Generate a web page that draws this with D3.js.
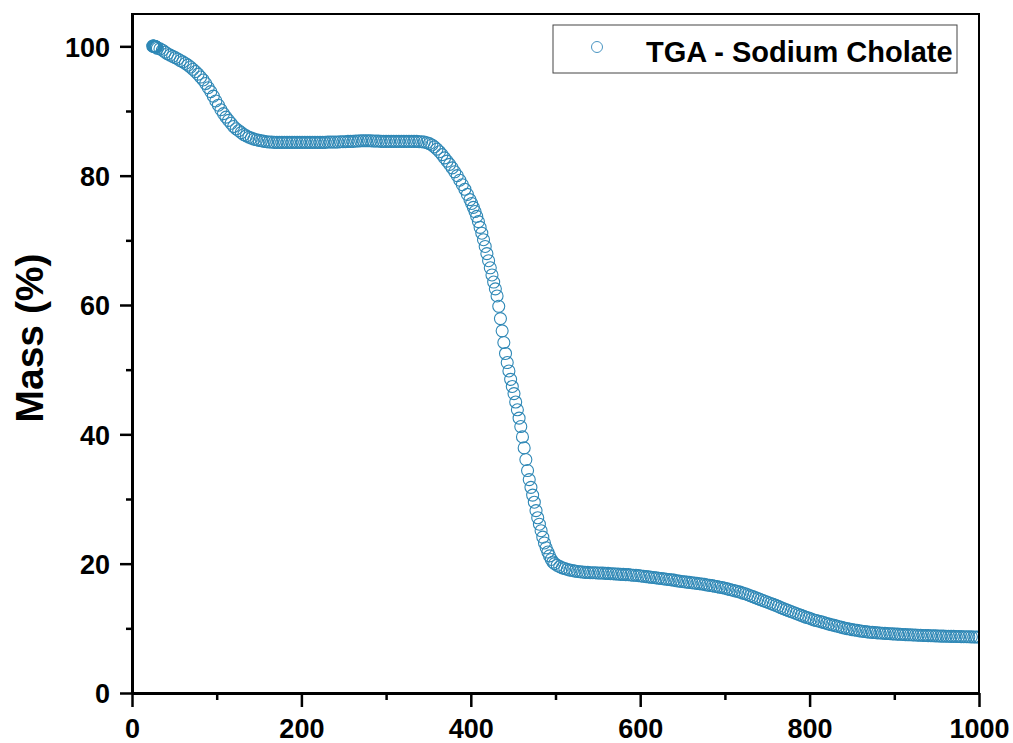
<!DOCTYPE html>
<html>
<head>
<meta charset="utf-8">
<script src="https://cdn.jsdelivr.net/npm/d3@7"></script>
<style>
  body { margin: 0; background: #fff; }
  svg { display: block; }
  text { font-family: "Liberation Sans", Arial, sans-serif; font-weight: bold; }
</style>
</head>
<body>
<svg id="chart" width="1013" height="743"></svg>
<script>
// ---- data (temperature °C, mass %) ----
const seriesName = "TGA - Sodium Cholate";
const xTickValues = [0, 200, 400, 600, 800, 1000];
const xMinorTicks = [100, 300, 500, 700, 900];
const yTickValues = [0, 20, 40, 60, 80, 100];
const yMinorTicks = [10, 30, 50, 70, 90];
const yLabel = "Mass (%)";

const tgaPoints = [
  [24.5,100.05],[25,100.05],[25.5,100.03],[26,100.0],[26.5,100.0],[27,99.98],[27.5,99.95],[28,99.93],[28.5,99.9],[29,99.85],
  [30,99.7],[33,99.6],[36,99.4],[39,99.1],[42,98.85],[45,98.65],[48,98.45],[51,98.25],[54,98.05],[57,97.8],
  [60,97.6],[63,97.35],[66,97.1],[69,96.8],[72,96.45],[75,96.1],[78,95.7],[81,95.25],[84,94.8],[87,94.25],
  [90,93.6],[93,93.0],[96,92.3],[99,91.55],[102,90.9],[105,90.2],[108,89.6],[111,89.05],[114,88.55],[117,88.1],
  [120,87.6],[123,87.25],[126,86.95],[129,86.65],[132,86.35],[135,86.15],[138,85.95],[141,85.8],[144,85.65],[147,85.55],
  [150,85.45],[153,85.4],[156,85.3],[159,85.25],[162,85.2],[165,85.2],[168,85.15],[171,85.15],[174,85.15],[177,85.15],
  [180,85.15],[183,85.15],[186,85.15],[189,85.15],[192,85.15],[195,85.15],[198,85.15],[201,85.15],[204,85.15],[207,85.15],
  [210,85.15],[213,85.15],[216,85.15],[219,85.15],[222,85.15],[225,85.15],[228,85.15],[231,85.2],[234,85.2],[237,85.2],
  [240,85.2],[243,85.2],[246,85.25],[249,85.25],[252,85.25],[255,85.3],[258,85.3],[261,85.3],[264,85.35],[267,85.35],
  [270,85.4],[273,85.4],[276,85.4],[279,85.4],[282,85.4],[285,85.35],[288,85.35],[291,85.35],[294,85.3],[297,85.3],
  [300,85.3],[303,85.3],[306,85.3],[309,85.3],[312,85.3],[315,85.3],[318,85.3],[321,85.3],[324,85.3],[327,85.3],
  [330,85.3],[333,85.3],[336,85.3],[339,85.25],[342,85.25],[345,85.2],[348,85.1],[351,84.95],[354,84.75],[357,84.45],
  [360,84.1],[363,83.7],[366,83.25],[369,82.75],[372,82.25],[375,81.75],[378,81.2],[381,80.6],[384,80.0],[387,79.3],
  [390,78.6],[393,77.9],[396,77.1],[399,76.3],
  [401,75.7],[403,75.1],[405,74.45],[407,73.7],[409,72.9],[411,72.0],[413,71.1],[415,70.1],[417,69.05],[419,67.95],
  [421,66.85],[423,65.75],[425,64.65],[427,63.55],[429,62.5],[431,61.4],[433,59.8],[435,57.9],[437,56.0],[439,54.2],
  [441,52.5],[443,51.1],[445,49.8],[447,48.5],[449,47.4],[451,46.3],[453,45.0],[455,43.8],[457,42.5],[459,41.2],
  [461,39.6],[463,37.9],[465,36.1],[467,34.4],[469,33.0],[471,31.8],[473,30.6],[475,29.5],[477,28.2],[479,27.1],
  [481,26.1],[483,25.1],[485,24.1],[487,23.2],[489,22.45],[491,21.8],[493,21.2],[495,20.65],[497,20.25],[499,20.0],
  [502,19.75],[505,19.55],[508,19.35],[511,19.25],[514,19.1],[517,19.0],[520,18.95],[523,18.85],[526,18.8],[529,18.75],
  [532,18.7],[535,18.65],[538,18.65],[541,18.6],[544,18.6],[547,18.6],[550,18.55],[553,18.55],[556,18.55],[559,18.5],
  [562,18.5],[565,18.45],[568,18.45],[571,18.4],[574,18.4],[577,18.35],[580,18.35],[583,18.3],[586,18.3],[589,18.25],
  [592,18.2],[595,18.2],[598,18.15],[601,18.1],[604,18.05],[607,18.0],[610,17.95],[613,17.9],[616,17.85],[619,17.8],
  [622,17.75],[625,17.7],[628,17.65],[631,17.6],[634,17.55],[637,17.5],[640,17.45],[643,17.35],[646,17.3],[649,17.25],
  [652,17.2],[655,17.15],[658,17.1],[661,17.05],[664,17.0],[667,16.95],[670,16.9],[673,16.85],[676,16.8],[679,16.7],
  [682,16.65],[685,16.6],[688,16.5],[691,16.45],[694,16.35],[697,16.3],[700,16.2],[703,16.1],[706,16.0],[709,15.9],
  [712,15.8],[715,15.7],[718,15.6],[721,15.45],[724,15.35],[727,15.2],[730,15.05],[733,14.9],[736,14.75],[739,14.6],
  [742,14.45],[745,14.3],[748,14.15],[751,14.0],[754,13.85],[757,13.7],[760,13.55],[763,13.4],[766,13.2],[769,13.05],
  [772,12.9],[775,12.75],[778,12.6],[781,12.45],[784,12.3],[787,12.15],[790,12.0],[793,11.85],[796,11.7],[799,11.6],
  [802,11.45],[805,11.3],[808,11.2],[811,11.1],[814,11.0],[817,10.9],[820,10.75],[823,10.65],[826,10.55],[829,10.45],
  [832,10.35],[835,10.25],[838,10.15],[841,10.05],[844,9.95],[847,9.9],[850,9.8],[853,9.75],[856,9.7],[859,9.6],
  [862,9.55],[865,9.5],[868,9.45],[871,9.4],[874,9.38],[877,9.35],[880,9.3],[883,9.28],[886,9.25],[889,9.22],
  [892,9.2],[895,9.17],[898,9.15],[901,9.12],[904,9.1],[907,9.08],[910,9.05],[913,9.03],[916,9.0],[919,9.0],
  [922,8.98],[925,8.96],[928,8.94],[931,8.92],[934,8.9],[937,8.89],[940,8.87],[943,8.86],[946,8.85],[949,8.83],
  [952,8.82],[955,8.8],[958,8.79],[961,8.78],[964,8.77],[967,8.76],[970,8.75],[973,8.74],[976,8.73],[979,8.72],
  [982,8.71],[985,8.7],[988,8.69],[991,8.68],[994,8.67],[997,8.66],[1000,8.65]
];

// ---- layout ----
const svg = d3.select("#chart");
const plotL = 132, plotR = 979, plotT = 14, plotB = 693;

const x = d3.scaleLinear().domain([0, 1000]).range([plotL, plotR]);
const y = d3.scaleLinear().domain([0, 105]).range([plotB, plotT]);

// clip
svg.append("defs").append("clipPath").attr("id", "plotclip")
  .append("rect").attr("x", plotL).attr("y", plotT)
  .attr("width", plotR - plotL).attr("height", plotB - plotT);

// points
svg.append("g").attr("clip-path", "url(#plotclip)")
  .selectAll("circle").data(tgaPoints).join("circle")
  .attr("cx", d => x(d[0]))
  .attr("cy", d => y(d[1]))
  .attr("r", 6)
  .attr("fill", "none")
  .attr("stroke", "#2f88b6")
  .attr("stroke-width", 1.1);

// frame (top/right)
svg.append("rect")
  .attr("x", plotL).attr("y", plotT)
  .attr("width", plotR - plotL).attr("height", plotB - plotT)
  .attr("fill", "none").attr("stroke", "#000").attr("stroke-width", 2);

// axes
function styleAxis(g) {
  g.selectAll("path.domain").attr("stroke", "#000").attr("stroke-width", 3);
  g.selectAll(".tick line").attr("stroke", "#000").attr("stroke-width", 2.5);
  g.selectAll(".tick text").attr("fill", "#000")
    .style("font-size", "27px").style("font-weight", "bold")
    .style("font-family", '"Liberation Sans", Arial, sans-serif');
}

// minor ticks
svg.append("g").attr("transform", `translate(0,${plotB})`)
  .call(d3.axisBottom(x).tickValues(xMinorTicks).tickSize(7).tickFormat(""))
  .call(g => { g.select(".domain").remove(); styleAxis(g); });
svg.append("g").attr("transform", `translate(${plotL},0)`)
  .call(d3.axisLeft(y).tickValues(yMinorTicks).tickSize(6).tickFormat(""))
  .call(g => { g.select(".domain").remove(); styleAxis(g); });

// major axes
const gx = svg.append("g").attr("transform", `translate(0,${plotB})`)
  .call(d3.axisBottom(x).tickValues(xTickValues).tickSize(14).tickSizeOuter(0).tickFormat(d3.format("d")))
  .call(styleAxis);
gx.selectAll(".tick text").attr("y", 45).attr("dy", null);

const gy = svg.append("g").attr("transform", `translate(${plotL},0)`)
  .call(d3.axisLeft(y).tickValues(yTickValues).tickSize(12).tickSizeOuter(0).tickFormat(d3.format("d")))
  .call(styleAxis);
gy.selectAll(".tick text").attr("x", -22).attr("dy", "0.36em");

// y title
svg.append("text")
  .attr("transform", "translate(43,338) rotate(-90)")
  .attr("text-anchor", "middle")
  .style("font-size", "39px")
  .attr("fill", "#000")
  .text(yLabel);

// legend
const lg = svg.append("g");
lg.append("rect").attr("x", 553).attr("y", 25).attr("width", 404).attr("height", 48)
  .attr("fill", "#fff").attr("stroke", "#444").attr("stroke-width", 1);
lg.append("circle").attr("cx", 597).attr("cy", 47).attr("r", 5.5)
  .attr("fill", "none").attr("stroke", "#4a95c2").attr("stroke-width", 1);
lg.append("text").attr("x", 646).attr("y", 62)
  .style("font-size", "29px").attr("fill", "#000")
  .text(seriesName);
</script>
</body>
</html>
